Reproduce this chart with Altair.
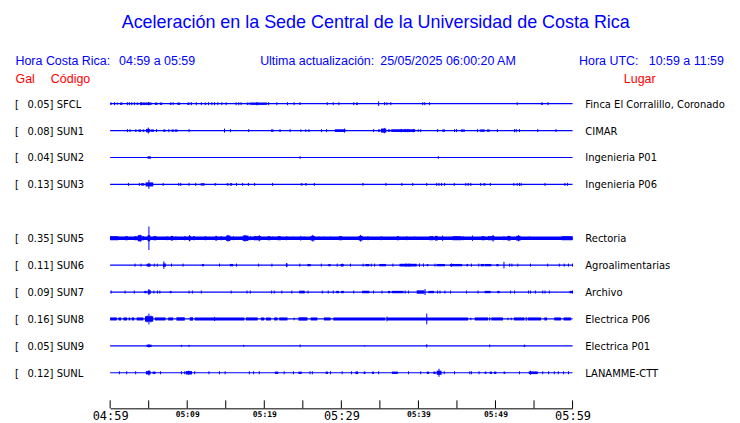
import altair as alt
import pandas as pd

# ---------------- data ----------------
STATIONS = ["SFCL", "SUN1", "SUN2", "SUN3", "SUN5", "SUN6", "SUN7", "SUN8", "SUN9", "SUNL"]
ROWS = [0, 1, 2, 3, 5, 6, 7, 8, 9, 10]
PEAK_GAL = ["0.05", "0.08", "0.04", "0.13", "0.35", "0.11", "0.09", "0.16", "0.05", "0.12"]
PLACES = ["Finca El Corralillo, Coronado", "CIMAR", "Ingenieria P01", "Ingenieria P06",
          "Rectoria", "Agroalimentarias", "Archivo", "Electrica P06", "Electrica P01", "LANAMME-CTT"]

TICK_MINUTES = list(range(0, 61, 5))      # minutes after 04:59
LABEL_MINUTES = list(range(0, 61, 10))

TICK_AMP = 0.045   # Gal, default half height of a single spike
BLOCK_AMP = 0.035  # Gal, default half height of a burst

# spikes: minute or (minute, half amplitude in Gal); bursts: (start, end[, amp])
SFCL_SPIKES = [0.56, 2.24, 2.49, 2.80, 3.14, (4.0, 0.05), (4.99, 0.05), 8.17, 10.54, 11.18, 11.83,
               12.77, 13.2, 13.55, 13.98, 14.49, 15.05, 16.34, 16.69, 16.99, 18.15, (19.05, 0.05),
               20.56, 21.63, 23.01, 23.87, 28.17, 28.95, 29.68, 31.61, (34.84, 0.07), 35.61, 35.91,
               36.43, 40.56, 40.82, 41.46, 52.82, 56.82]
SFCL_BURSTS = [(0, 0.2), (0.86, 0.99), (1.29, 1.59), (3.44, 3.66), (3.87, 5.38), (5.81, 6.15),
               (6.45, 6.75), (7.74, 7.96), (8.73, 9.08), (10.02, 10.32), (12.26, 12.47),
               (17.72, 17.94), (18.28, 20.34), (24.52, 24.73), (31.9, 32.15), (55.9, 56.15)]

SUN1_SPIKES = [2.24, 2.58, (4.95, 0.09), 6.02, 7.61, 10.24, (14.84, 0.06), 15.61, 17.98, 23.35,
               27.44, 28.09, (30.41, 0.06), 34.19, (35.57, 0.08), (37.76, 0.05), (38.28, 0.05),
               (38.62, 0.05), (39.35, 0.05), 40.3, 42.49, 44.69, 44.95, 47.66, 50.24, 52.47,
               (52.69, 0.05), 53.12, 55.48, 57.85]
SUN1_BURSTS = [(3.23, 3.44), (3.66, 4.0), (4.21, 4.43), (4.65, 5.16, 0.05), (5.25, 5.68),
               (6.88, 7.18), (7.96, 8.26), (8.39, 8.73), (20.86, 21.2), (21.94, 22.15),
               (24.65, 24.82), (25.29, 25.46), (25.68, 25.89), (29.16, 30.54, 0.04), (34.75, 35.05),
               (35.14, 35.83, 0.06), (36.04, 36.34), (36.47, 39.57, 0.04), (39.91, 40.09),
               (43.1, 43.44), (45.5, 46.02), (47.96, 48.6), (48.9, 49.25)]

SUN2_SPIKES = [(24.65, 0.04), (42.58, 0.04)]
SUN2_BURSTS = [(4.86, 5.29)]

SUN3_SPIKES = [2.37, 3.78, (5.03, 0.13), 6.88, 8.9, 9.16, 10.24, 11.1, 16.39, 17.2, 17.94, 18.75,
               21.08, 26.49, 35.78, 37.85, 39.27, 41.08, 42.37, 42.67, 43.01, 43.4, 44.65, 46.15,
               46.8, 48.09, 49.33, 52.39, 52.82, 53.12, 53.33, 56.43, 59.01, 59.35]
SUN3_BURSTS = [(4.0, 4.43), (4.6, 5.59, 0.06), (11.74, 12.26), (13.55, 13.76), (15.14, 15.35),
               (15.53, 15.83), (24.73, 24.95), (25.29, 25.51), (32.69, 32.9), (46.37, 46.58),
               (48.43, 48.69)]

SUN5_SPIKES = [(3.9, 0.1), (5.03, 0.35), (10.3, 0.09), (15.3, 0.1), (16.0, 0.06), (16.99, 0.05),
               (17.5, 0.1), (18.19, 0.06), (19.35, 0.09), (21.08, 0.05), (22.92, 0.06),
               (23.74, 0.05), (24.73, 0.07), (25.16, 0.05), (26.3, 0.1), (27.1, 0.05),
               (27.74, 0.05), (28.6, 0.05), (32.5, 0.1), (33.46, 0.06), (35.18, 0.06),
               (38.49, 0.06), (39.48, 0.05), (43.14, 0.08), (45.81, 0.06), (47.01, 0.08),
               (49.68, 0.1), (51.1, 0.06), (53.0, 0.09), (54.41, 0.05)]
SUN5_BURSTS = [(0, 60, 0.05), (0, 1.08, 0.06), (1.94, 2.28, 0.06), (3.14, 3.44, 0.06),
               (3.57, 4.09, 0.09), (4.17, 4.39, 0.06), (4.86, 5.2, 0.09), (5.59, 6.02, 0.06),
               (7.31, 7.44, 0.06), (7.87, 8.17, 0.07), (8.47, 8.6, 0.06), (9.59, 9.76, 0.06),
               (10.19, 10.45, 0.07), (10.75, 10.97, 0.06), (12.26, 12.47, 0.06),
               (13.63, 13.89, 0.07), (14.32, 14.49, 0.06), (15.05, 15.61, 0.08),
               (17.2, 17.94, 0.08), (18.62, 19.57, 0.06), (20.43, 20.77, 0.06),
               (21.72, 22.15, 0.06), (26.02, 26.54, 0.07), (29.68, 30.11, 0.06),
               (32.26, 32.77, 0.07), (37.2, 37.5, 0.06), (41.42, 41.94, 0.06),
               (42.15, 42.49, 0.07), (44.43, 45.59, 0.06), (48.17, 48.6, 0.06),
               (49.03, 49.89, 0.06), (51.53, 51.96, 0.07), (52.69, 53.25, 0.07),
               (58.58, 60, 0.06)]

SUN6_SPIKES = [3.23, 4.0, (5.03, 0.06), 5.72, 6.11, (6.97, 0.11), 7.96, 9.46, 14.19, 16.39, 19.27,
               20.99, (22.9, 0.06), 24.6, 27.4, 29.46, 30.11, 31.18, 32.82, 33.89, 34.32, 36.69,
               (38.4, 0.05), (38.8, 0.05), (40.13, 0.05), (40.65, 0.05), 42.15, (44.3, 0.05),
               46.88, 47.83, (51.1, 0.1), 51.83, 52.13, 52.9, 54.54, 56.77, 58.28, 58.92, 59.48,
               60.0]
SUN6_BURSTS = [(4.73, 5.25, 0.04), (6.88, 7.23, 0.05), (11.91, 12.17), (15.53, 15.96),
               (22.8, 23.01, 0.05), (25.59, 26.02), (28.3, 28.6), (29.89, 30.32), (33.12, 33.63),
               (34.92, 35.78), (37.55, 39.78, 0.04), (41.08, 41.29), (42.37, 43.44),
               (44.09, 45.68), (46.24, 46.45), (48.09, 48.52), (48.6, 49.46), (50.11, 50.41)]

SUN7_SPIKES = [0.13, 1.94, 3.14, (5.03, 0.09), 5.68, 6.15, 6.45, 10.24, 10.67, 11.83, 15.7, 17.76,
               18.19, 20.95, 21.29, 22.28, 23.57, 25.68, 27.53, 28.3, 28.95, 31.61, 34.19, 35.27,
               38.28, 38.71, (40.86, 0.09), 42.49, 42.8, 43.44, 44.17, 46.24, 47.74, 51.96, 52.47,
               54.28, 54.54, 55.18, 56.13, 56.43, 57.0, 60.0]
SUN7_BURSTS = [(4.43, 4.73), (4.86, 5.29, 0.05), (7.74, 7.96), (24.52, 25.25, 0.04),
               (29.33, 29.68), (29.98, 30.32), (32.69, 33.63), (36.04, 36.34), (36.56, 38.06),
               (39.78, 40.77, 0.05), (41.29, 42.02), (48.6, 49.38), (50.24, 50.54), (59.6, 60)]

SUN8_SPIKES = [(4.8, 0.1), (5.03, 0.16), (5.3, 0.1), (13.55, 0.06), (23.87, 0.04), (35.91, 0.07),
               (41.08, 0.16), (46.8, 0.04), (49.25, 0.05), (51.61, 0.04), (52.04, 0.04),
               (53.98, 0.06)]
SUN8_BURSTS = [(0, 0.86, 0.045), (1.08, 1.42, 0.045), (1.72, 2.2, 0.045), (2.4, 2.6, 0.045),
               (2.8, 3.14, 0.045), (3.44, 4.3, 0.045), (4.52, 5.59, 0.08), (5.81, 7.18, 0.045),
               (7.53, 8.17, 0.045), (8.6, 9.68, 0.05), (10.32, 10.75, 0.05), (10.97, 17.42, 0.045),
               (17.63, 19.14, 0.045), (19.57, 20.0, 0.045), (20.22, 20.86, 0.045),
               (21.29, 21.72, 0.045), (21.94, 23.01, 0.045), (24.43, 25.59, 0.05),
               (26.02, 26.88, 0.045), (27.74, 28.6, 0.045), (28.95, 35.7, 0.045),
               (35.91, 46.45, 0.045), (47.31, 49.03, 0.045), (49.46, 50.97, 0.045),
               (52.39, 53.76, 0.045), (54.19, 55.91, 0.045), (56.34, 56.69, 0.045),
               (57.63, 58.49, 0.045), (58.84, 59.78, 0.045)]

SUN9_SPIKES = [(5.03, 0.05), (9.25, 0.03), (10.24, 0.03), (17.33, 0.03), (24.65, 0.04),
               (33.03, 0.02), (41.08, 0.05), (49.25, 0.04)]
SUN9_BURSTS = [(4.73, 5.38), (53.68, 53.85)]

SUNL_SPIKES = [1.2, 2.15, 3.31, (5.03, 0.08), 6.54, 9.25, 9.68, (10.19, 0.06), 10.97, 12.82, 14.19,
               14.92, 18.06, 18.62, 19.35, 22.58, 23.78, 25.94, 26.24, 28.6, 30.11, 31.31, 34.84,
               38.71, 40.3, (42.67, 0.12), 43.35, 44.69, 46.67, 46.88, 47.87, 53.12, (54.54, 0.06),
               56.13, 56.9, 57.63, 58.15, 58.84, 59.48]
SUNL_BURSTS = [(4.65, 5.25, 0.05), (5.51, 5.89), (9.81, 10.62, 0.05), (21.38, 21.81),
               (24.43, 24.86), (27.96, 28.26), (31.83, 32.17, 0.04), (32.9, 33.12),
               (33.98, 34.24), (36.56, 37.33), (41.08, 41.38), (41.94, 42.24),
               (42.37, 43.01, 0.06), (48.6, 48.82), (49.25, 49.55), (49.81, 50.11),
               (51.05, 51.27), (54.32, 55.48, 0.04)]

SPIKES = [SFCL_SPIKES, SUN1_SPIKES, SUN2_SPIKES, SUN3_SPIKES, SUN5_SPIKES,
          SUN6_SPIKES, SUN7_SPIKES, SUN8_SPIKES, SUN9_SPIKES, SUNL_SPIKES]
BURSTS = [SFCL_BURSTS, SUN1_BURSTS, SUN2_BURSTS, SUN3_BURSTS, SUN5_BURSTS,
          SUN6_BURSTS, SUN7_BURSTS, SUN8_BURSTS, SUN9_BURSTS, SUNL_BURSTS]

TITLE = "Aceleración en la Sede Central de la Universidad de Costa Rica"
HDR_LOCAL_LBL, HDR_LOCAL_VAL = "Hora Costa Rica:", "04:59 a 05:59"
HDR_UPD_LBL, HDR_UPD_VAL = "Ultima actualización:", "25/05/2025 06:00:20 AM"
HDR_UTC_LBL, HDR_UTC_VAL = "Hora UTC:", "10:59 a 11:59"

# ---------------- layout / style ----------------
BLUE = "#0000ff"
RED = "#ff0000"
W, H = 464, 319
ROW_GAL = 0.8                      # Gal between two trace rows
PX_PER_GAL = 27.0 / ROW_GAL
Y_TOP = 13.3 / PX_PER_GAL
Y_BOTTOM = Y_TOP - H / PX_PER_GAL

offsets = [-ROW_GAL * r for r in ROWS]

base_df = pd.DataFrame({"station": STATIONS, "offset": offsets,
                        "x0": [0] * len(STATIONS), "x1": [60] * len(STATIONS)})
lab_df = pd.DataFrame({"offset": offsets, "code": [f"{g}] {s}" for g, s in zip(PEAK_GAL, STATIONS)],
                       "place": PLACES, "br": ["["] * len(STATIONS)})

sp_rows, bu_rows = [], []
for off, sp, bu in zip(offsets, SPIKES, BURSTS):
    for e in sp:
        t, a = (e, TICK_AMP) if not isinstance(e, tuple) else e
        sp_rows.append({"t": t, "lo": off - a, "hi": off + a})
    for e in bu:
        a = e[2] if len(e) > 2 else BLOCK_AMP
        bu_rows.append({"t1": e[0], "t2": e[1], "lo": off - a, "hi": off + a})
sp_df = pd.DataFrame(sp_rows)
bu_df = pd.DataFrame(bu_rows)

xs = alt.Scale(domain=[0, 60], nice=False, zero=False)
ys = alt.Scale(domain=[Y_BOTTOM, Y_TOP], nice=False, zero=False)

big = "datum.value % 30 === 0"
hm = "(299 + datum.value)"
label_expr = (f"(floor({hm}/60) < 10 ? '0' : '') + floor({hm}/60) + ':' + "
              f"(({hm} % 60) < 10 ? '0' : '') + ({hm} % 60)")
xaxis = alt.Axis(values=LABEL_MINUTES, ticks=False, tickSize=0, grid=False, domain=True,
                 domainColor="black", domainWidth=1, labelFont="DejaVu Sans Mono",
                 labelFontSize={"condition": {"test": big, "value": 12}, "value": 8},
                 labelFontWeight={"condition": {"test": big, "value": "normal"}, "value": "bold"},
                 labelColor="black", labelPadding=2, labelBaseline="top", labelExpr=label_expr,
                 labelOverlap=False, labelFlush=False, title=None)

baseline = alt.Chart(base_df).mark_rule(color=BLUE, strokeWidth=1.2).encode(
    x=alt.X("x0:Q", scale=xs, axis=xaxis), x2="x1",
    y=alt.Y("offset:Q", scale=ys, axis=None))
bursts = alt.Chart(bu_df).mark_rect(color=BLUE).encode(
    x=alt.X("t1:Q", scale=xs, axis=xaxis), x2="t2",
    y=alt.Y("lo:Q", scale=ys, axis=None), y2="hi")
spikes = alt.Chart(sp_df).mark_rule(color=BLUE, strokeWidth=1).encode(
    x=alt.X("t:Q", scale=xs, axis=xaxis),
    y=alt.Y("lo:Q", scale=ys, axis=None), y2="hi")
ticks = alt.Chart(pd.DataFrame({"m": TICK_MINUTES})).mark_rule(color="black", strokeWidth=1).encode(
    x=alt.X("m:Q", scale=xs, axis=xaxis), y=alt.value(H), y2=alt.value(H - 8))

lab_font = dict(font="DejaVu Sans", fontSize=10, color="black", align="left", baseline="middle", dy=1)
bracket = alt.Chart(lab_df).mark_text(**lab_font).encode(
    x=alt.value(-95.5), y=alt.Y("offset:Q", scale=ys, axis=None), text="br:N")
codes = alt.Chart(lab_df).mark_text(**lab_font).encode(
    x=alt.value(-83), y=alt.Y("offset:Q", scale=ys, axis=None), text="code:N")
places = alt.Chart(lab_df).mark_text(**lab_font).encode(
    x=alt.value(476.8), y=alt.Y("offset:Q", scale=ys, axis=None), text="place:N")

one = pd.DataFrame({"a": [0]})


def txt(s, x, y, size=12.5, color=BLUE, align="left"):
    return alt.Chart(one).mark_text(text=s, font="Liberation Sans", fontSize=size, color=color,
                                    align=align, baseline="middle").encode(
        x=alt.value(x), y=alt.value(y))


headers = [
    txt(TITLE, 377 - 110.5, -68, size=18, align="center"),
    txt(HDR_LOCAL_LBL, 15.5 - 110.5, -30),
    txt(HDR_LOCAL_VAL, 119.5 - 110.5, -30),
    txt(HDR_UPD_LBL, 261 - 110.5, -30),
    txt(HDR_UPD_VAL, 381.5 - 110.5, -30),
    txt(HDR_UTC_LBL, 581 - 110.5, -30),
    txt(HDR_UTC_VAL, 651 - 110.5, -30),
    txt("Gal", 15.5 - 110.5, -11, color=RED),
    txt("Código", 51 - 110.5, -11, color=RED),
    txt("Lugar", 626 - 110.5, -11, color=RED),
]

chart = alt.layer(baseline, bursts, spikes, ticks, bracket, codes, places, *headers).properties(
    width=W, height=H,
    autosize=alt.AutoSizeParams(type="none"),
    padding={"left": 102.5, "top": 82, "right": 160, "bottom": 16},
).configure_view(stroke=None)

chart.save("out.html", embed_options={"renderer": "svg", "actions": False})
